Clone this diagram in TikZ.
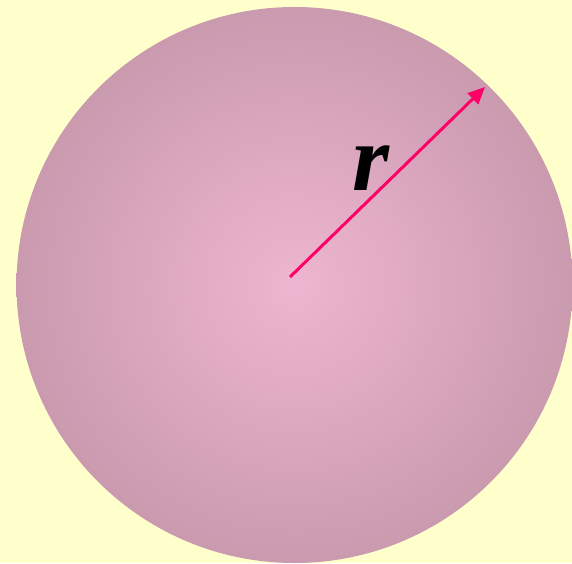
\documentclass[tikz,border=0pt]{standalone}
\usepackage{fontspec}
\setmainfont{Liberation Serif}
\usetikzlibrary{arrows.meta}
\definecolor{bgyellow}{HTML}{FFFFCC}
\definecolor{discin}{HTML}{EEB6D0}
\definecolor{discout}{HTML}{CA9AAF}
\definecolor{radiuspink}{HTML}{FF0066}
\begin{document}
\begin{tikzpicture}[x=1pt, y=1pt, >={Triangle[length=17pt,width=15pt]}]
  % background
  \fill[bgyellow] (0,0) rectangle (572,563);
  \useasboundingbox (0,0) rectangle (572,563);
  % disc
  \coordinate (centre) at (294.5,278);
  \shade[inner color=discin, outer color=discout] (centre) circle[radius=278];
  % radius
  \coordinate (start) at (290,286);
  \coordinate (rim) at (485,476);
  \draw[->, radiuspink, line width=3pt] (start) -- (rim);
  \node[inner sep=0pt, font=\fontsize{95}{95}\selectfont\bfseries\itshape] (rlabel) at (371,395) {r};
\end{tikzpicture}
\end{document}
